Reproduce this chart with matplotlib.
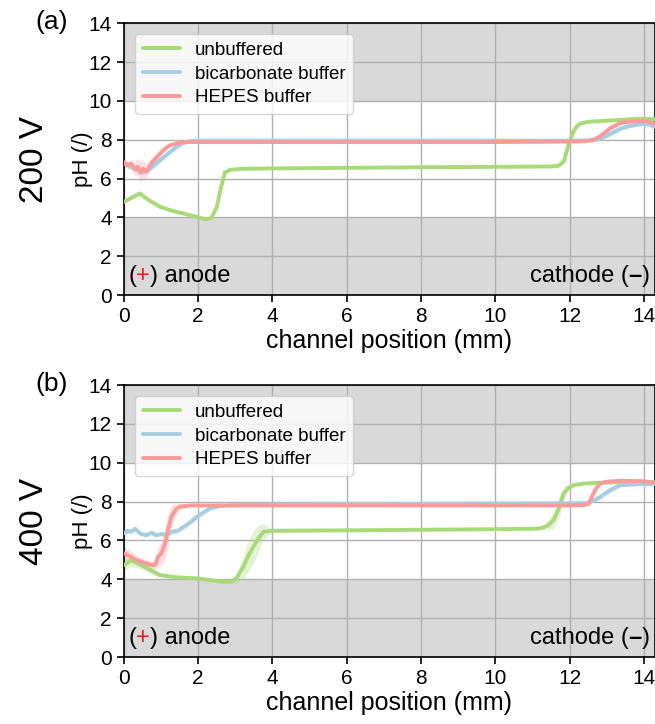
import numpy as np
import matplotlib
matplotlib.use("Agg")
import matplotlib.pyplot as plt

plt.rcParams["font.family"] = ["Liberation Sans", "DejaVu Sans"]

GREEN = "#a8da78"
BLUE = "#a6cee3"
RED = "#fb9a99"

labels = ["unbuffered", "bicarbonate buffer", "HEPES buffer"]
voltages = ["200 V", "400 V"]
panel_tags = ["(a)", "(b)"]

# ---- 200 V ----
green_a_x = [0, 0.2, 0.43, 0.7, 0.97, 1.2, 1.42, 1.7, 2.0, 2.2, 2.35, 2.5, 2.6, 2.72, 2.86, 3.2, 4, 6, 8, 10,
             11.5, 11.7, 11.85, 11.98, 12.1, 12.2, 12.29, 12.5, 12.83, 13.4, 13.9, 14.3]
green_a_y = [4.8, 5.0, 5.23, 4.85, 4.55, 4.4, 4.28, 4.15, 4.0, 3.9, 3.95, 4.5, 5.4, 6.3, 6.45, 6.5, 6.52, 6.55, 6.58, 6.6,
             6.62, 6.65, 6.9, 7.8, 8.4, 8.7, 8.83, 8.92, 8.96, 9.02, 9.08, 9.05]
green_a_sd = [0.05, 0.08, 0.1, 0.08, 0.05, 0.05, 0.05, 0.05, 0.05, 0.05, 0.05, 0.08, 0.12, 0.1, 0.05, 0.03, 0.03, 0.03, 0.03, 0.03,
              0.03, 0.05, 0.15, 0.2, 0.12, 0.08, 0.05, 0.05, 0.05, 0.05, 0.05, 0.05]

blue_a_x = [0, 0.2, 0.35, 0.52, 0.7, 0.97, 1.2, 1.42, 1.6, 1.78, 2.0, 2.5, 4, 6, 8, 10, 12,
            12.5, 12.83, 13.1, 13.37, 13.6, 13.9, 14.1, 14.3]
blue_a_y = [6.77, 6.6, 6.45, 6.34, 6.5, 6.94, 7.3, 7.62, 7.82, 7.92, 7.95, 7.95, 7.95, 7.95, 7.95, 7.95, 7.95,
            7.96, 8.05, 8.3, 8.57, 8.7, 8.8, 8.8, 8.65]
blue_a_sd = [0.15, 0.15, 0.15, 0.15, 0.15, 0.15, 0.12, 0.1, 0.06, 0.04, 0.03, 0.03, 0.03, 0.03, 0.03, 0.03, 0.03,
             0.05, 0.1, 0.15, 0.12, 0.1, 0.08, 0.05, 0.05]

red_a_x = [0, 0.1, 0.2, 0.3, 0.38, 0.45, 0.52, 0.6, 0.75, 0.97, 1.1, 1.24, 1.45, 1.69, 2.0, 4, 6, 8, 10, 12,
           12.4, 12.64, 12.8, 12.92, 13.1, 13.37, 13.6, 13.9, 14.1, 14.3]
red_a_y = [6.85, 6.7, 6.75, 6.5, 6.6, 6.3, 6.5, 6.35, 6.8, 7.28, 7.52, 7.71, 7.82, 7.88, 7.88, 7.88, 7.88, 7.88, 7.88, 7.9,
           7.92, 7.98, 8.15, 8.31, 8.6, 8.86, 8.92, 8.96, 8.95, 8.79]
red_a_sd = [0.15, 0.2, 0.25, 0.35, 0.45, 0.55, 0.5, 0.35, 0.25, 0.18, 0.1, 0.06, 0.04, 0.03, 0.03, 0.03, 0.03, 0.03, 0.03, 0.03,
            0.05, 0.1, 0.15, 0.15, 0.12, 0.08, 0.05, 0.05, 0.05, 0.05]

# ---- 400 V ----
green_b_x = [0, 0.1, 0.2, 0.5, 0.97, 1.42, 1.96, 2.3, 2.59, 2.9, 3.05, 3.22, 3.35, 3.49, 3.62, 3.76, 4.0, 6, 8, 10,
             11.0, 11.21, 11.4, 11.57, 11.7, 11.84, 11.97, 12.11, 12.4, 12.74, 13.5, 14.3]
green_b_y = [4.73, 4.85, 4.99, 4.7, 4.22, 4.1, 4.05, 3.97, 3.88, 3.88, 4.1, 4.65, 5.2, 5.68, 6.1, 6.45, 6.5, 6.52, 6.55, 6.58,
             6.6, 6.62, 6.75, 7.05, 7.6, 8.42, 8.7, 8.85, 8.93, 8.97, 9.0, 9.0]
green_b_sd = [0.25, 0.3, 0.3, 0.2, 0.1, 0.05, 0.05, 0.05, 0.05, 0.1, 0.3, 0.6, 0.8, 0.85, 0.7, 0.4, 0.1, 0.03, 0.03, 0.03,
              0.03, 0.05, 0.2, 0.45, 0.5, 0.35, 0.15, 0.08, 0.05, 0.05, 0.05, 0.05]

blue_b_x = [0, 0.1, 0.2, 0.3, 0.45, 0.6, 0.75, 0.85, 1.0, 1.15, 1.3, 1.45, 1.62, 1.8, 1.96, 2.15, 2.32, 2.59, 3.0, 4, 6, 8, 10, 12,
            12.46, 12.65, 12.83, 13.1, 13.37, 13.9, 14.3]
blue_b_y = [6.37, 6.5, 6.45, 6.6, 6.35, 6.28, 6.4, 6.28, 6.32, 6.3, 6.45, 6.5, 6.71, 6.95, 7.22, 7.45, 7.65, 7.77, 7.82, 7.85, 7.87, 7.88, 7.9, 7.91,
            7.93, 8.05, 8.25, 8.6, 8.85, 8.9, 8.9]
blue_b_sd = [0.12, 0.12, 0.12, 0.12, 0.12, 0.12, 0.12, 0.12, 0.12, 0.12, 0.12, 0.12, 0.15, 0.15, 0.15, 0.12, 0.1, 0.06, 0.04, 0.03, 0.03, 0.03, 0.03, 0.03,
             0.05, 0.1, 0.15, 0.15, 0.1, 0.05, 0.05]

red_b_x = [0, 0.15, 0.34, 0.55, 0.75, 0.85, 0.92, 1.0, 1.05, 1.12, 1.19, 1.28, 1.4, 1.51, 1.78, 2.2, 4, 6, 8, 10, 12,
           12.4, 12.52, 12.64, 12.74, 12.83, 13.0, 13.37, 14.0, 14.3]
red_b_y = [5.34, 5.2, 4.99, 4.85, 4.73, 4.75, 5.16, 5.3, 5.5, 5.9, 6.54, 7.22, 7.6, 7.74, 7.8, 7.8, 7.8, 7.8, 7.8, 7.8, 7.8,
           7.82, 7.9, 8.42, 8.75, 8.94, 9.02, 9.07, 9.05, 8.97]
red_b_sd = [0.3, 0.3, 0.25, 0.2, 0.2, 0.3, 0.5, 0.6, 0.7, 0.8, 0.8, 0.6, 0.3, 0.15, 0.06, 0.03, 0.03, 0.03, 0.03, 0.03, 0.03,
            0.05, 0.1, 0.15, 0.12, 0.08, 0.05, 0.05, 0.05, 0.05]

panels = [
    [(green_a_x, green_a_y, green_a_sd), (blue_a_x, blue_a_y, blue_a_sd), (red_a_x, red_a_y, red_a_sd)],
    [(green_b_x, green_b_y, green_b_sd), (blue_b_x, blue_b_y, blue_b_sd), (red_b_x, red_b_y, red_b_sd)],
]
colors = [GREEN, BLUE, RED]


def draw_panel(ax, series, voltage, tag):
    ax.axhspan(10, 14, color="#d9d9d9", zorder=0, lw=0)
    ax.axhspan(0, 4, color="#d9d9d9", zorder=0, lw=0)
    ax.grid(True, color="#b0b0b0", lw=1, zorder=1)
    ax.set_axisbelow(True)

    for (x, y, sd), c, lab in zip(series, colors, labels):
        x = np.array(x)
        y = np.array(y)
        sd = np.array(sd)
        ax.fill_between(x, y - sd, y + sd, color=c, alpha=0.3, lw=0, zorder=2)
        ax.plot(x, y, color=c, lw=2.8, label=lab, zorder=3, solid_capstyle="round")

    ax.set_xlim(0, 14.3)
    ax.set_ylim(0, 14)
    ax.set_xticks(range(0, 15, 2))
    ax.set_yticks(range(0, 15, 2))
    ax.tick_params(labelsize=15, length=5, width=1.2)
    for s in ax.spines.values():
        s.set_linewidth(1.2)
    ax.set_xlabel("channel position (mm)", fontsize=18, labelpad=2)
    ax.set_ylabel("pH (/)", fontsize=16)
    ax.yaxis.set_label_coords(-0.058, 0.5)

    leg = ax.legend(loc="upper left", fontsize=13.5, handlelength=2.0, borderaxespad=0.6, framealpha=0.8,
                    edgecolor="#cccccc", labelspacing=0.35)
    leg.set_zorder(5)

    # anode text with red plus
    t1 = ax.text(0.008, 0.03, "(", transform=ax.transAxes, fontsize=17, va="bottom", ha="left", zorder=6)
    t2 = ax.annotate("+", xy=(1, 0), xycoords=t1, fontsize=17, color="#e8202a", va="bottom", ha="left", zorder=6)
    ax.annotate(") anode", xy=(1, 0), xycoords=t2, fontsize=17, va="bottom", ha="left", zorder=6)

    # cathode text with bold dash
    c1 = ax.text(0.99, 0.03, ")", transform=ax.transAxes, fontsize=17, va="bottom", ha="right", zorder=6)
    c2 = ax.annotate("\u2013", xy=(0, 0), xycoords=c1, fontsize=17, fontweight="bold", va="bottom", ha="right", zorder=6)
    ax.annotate("cathode (", xy=(0, 0), xycoords=c2, fontsize=17, va="bottom", ha="right", zorder=6)

    ax.text(-0.168, 0.5, voltage, transform=ax.transAxes, fontsize=24, rotation=90, va="center", ha="center")
    ax.text(-0.105, 1.005, tag, transform=ax.transAxes, fontsize=19, va="center", ha="right")


fig = plt.figure(figsize=(6.55, 7.24), dpi=100)
ax_a = fig.add_axes([0.189, 0.5925, 0.811, 0.3755])
ax_b = fig.add_axes([0.189, 0.0925, 0.811, 0.3757])

for ax, series, v, tag in zip([ax_a, ax_b], panels, voltages, panel_tags):
    draw_panel(ax, series, v, tag)

fig.savefig("out.png", dpi=100)
